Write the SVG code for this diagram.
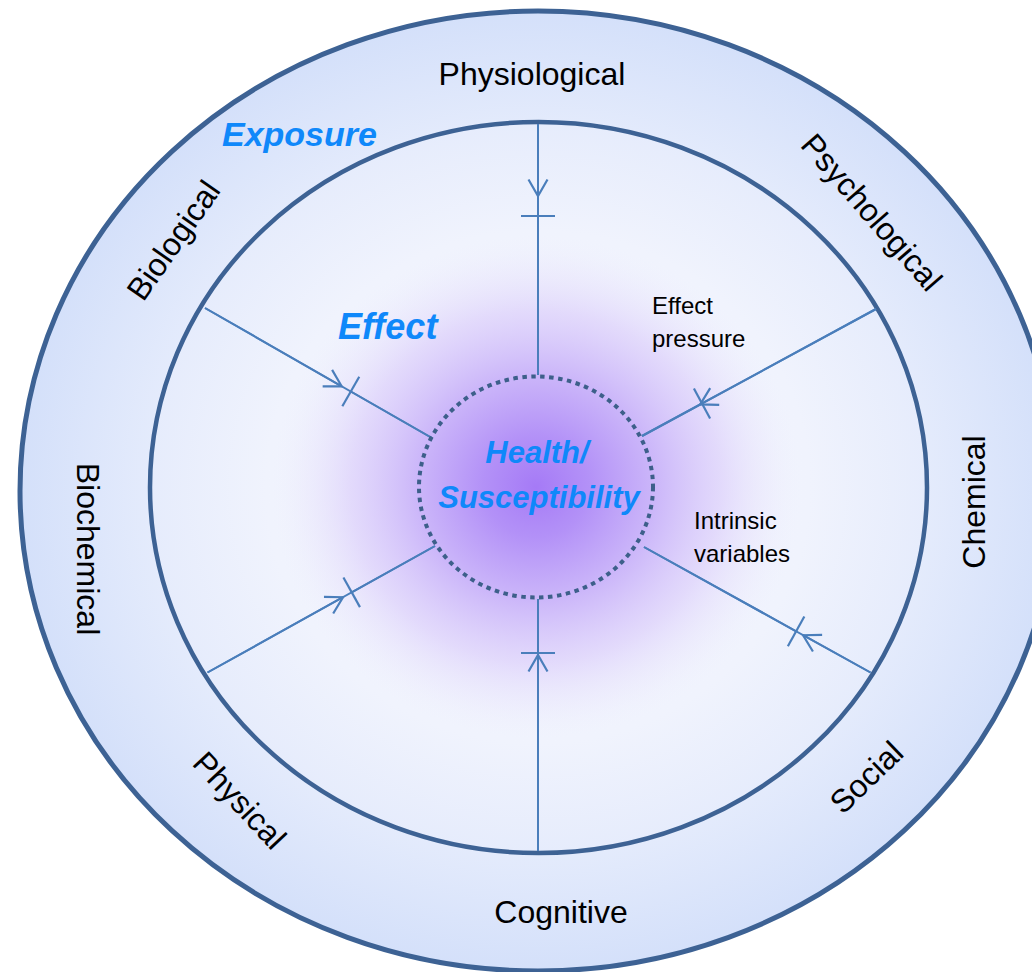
<svg xmlns="http://www.w3.org/2000/svg" width="1032" height="972" viewBox="0 0 1032 972">
  <defs>
    <radialGradient id="ringFill" cx="538" cy="491" r="518" gradientUnits="userSpaceOnUse" gradientTransform="translate(538 491) scale(1 0.927) translate(-538 -491)">
      <stop offset="0" stop-color="#eef1fd"/>
      <stop offset="0.75" stop-color="#e4ebfc"/>
      <stop offset="1" stop-color="#d4e0fa"/>
    </radialGradient>
    <radialGradient id="discFill" cx="538" cy="487" r="388" gradientUnits="userSpaceOnUse" gradientTransform="translate(538 487) scale(1 0.943) translate(-538 -487)">
      <stop offset="0" stop-color="#f6f5fe"/>
      <stop offset="0.7" stop-color="#f0f3fd"/>
      <stop offset="1" stop-color="#e6ecfc"/>
    </radialGradient>
    <radialGradient id="glow" cx="536" cy="487" r="265" gradientUnits="userSpaceOnUse" gradientTransform="translate(536 487) scale(1 0.95) translate(-536 -487)">
      <stop offset="0" stop-color="#a57af6" stop-opacity="1"/>
      <stop offset="0.2" stop-color="#b18ef7" stop-opacity="0.97"/>
      <stop offset="0.45" stop-color="#c8b1f9" stop-opacity="0.92"/>
      <stop offset="0.7" stop-color="#dccffb" stop-opacity="0.7"/>
      <stop offset="0.88" stop-color="#e8e4fc" stop-opacity="0.35"/>
      <stop offset="1" stop-color="#eef0fd" stop-opacity="0"/>
    </radialGradient>
    <marker id="vee" markerUnits="userSpaceOnUse" markerWidth="40" markerHeight="40" refX="0" refY="0" orient="auto" overflow="visible">
      <path d="M-16.5,-9.5 L0,0 L-16.5,9.5" fill="none" stroke="#4a7ebb" stroke-width="2.2"/>
    </marker>
    <marker id="bar" markerUnits="userSpaceOnUse" markerWidth="40" markerHeight="40" refX="0" refY="0" orient="auto" overflow="visible">
      <path d="M0,-17 L0,17" fill="none" stroke="#4a7ebb" stroke-width="2.2"/>
    </marker>
  </defs>
  <style>
    .rim { stroke: #3d6294; fill: none; }
    .spoke { stroke: #4a7ebb; stroke-width: 2; fill: none; }
    .ring-label { font-family: "Liberation Sans", Arial, sans-serif; font-size: 32px; fill: #000; }
    .note { font-family: "Liberation Sans", Arial, sans-serif; font-size: 24px; fill: #000; }
    .key { font-family: "Liberation Sans", Arial, sans-serif; font-weight: bold; font-style: italic; fill: #0f88fa; }
  </style>

  <rect width="1032" height="972" fill="#ffffff"/>

  <!-- outer ring: exposure domains -->
  <g id="exposure-ring">
    <ellipse cx="538" cy="491" rx="518" ry="480" fill="url(#ringFill)"/>
    <ellipse class="rim" cx="538" cy="491" rx="518" ry="480" stroke-width="5"/>
  </g>

  <!-- inner disc: effect zone -->
  <g id="effect-disc">
    <ellipse cx="538.5" cy="487.5" rx="388.5" ry="365.5" fill="url(#discFill)"/>
    <ellipse cx="536" cy="487" rx="270" ry="258" fill="url(#glow)"/>
    <ellipse class="rim" cx="538.5" cy="487.5" rx="388.5" ry="365.5" stroke-width="4.5"/>
  </g>

  <!-- spokes: exposure pressure towards the core -->
  <g id="connectors">
    <!-- top -->
    <path class="spoke" d="M538,124 L538,375"/>
    <path class="spoke" d="M538,124 L538,196" marker-end="url(#vee)"/>
    <path class="spoke" d="M538,216 L538,375" marker-start="url(#bar)"/>
    <!-- bottom -->
    <path class="spoke" d="M538,851 L538,599"/>
    <path class="spoke" d="M538,851 L538,655" marker-end="url(#vee)"/>
    <path class="spoke" d="M538,653 L538,599" marker-start="url(#bar)"/>
    <!-- upper left -->
    <path class="spoke" d="M205,308 L432,438"/>
    <path class="spoke" d="M205,308 L341.7,386.3" marker-end="url(#vee)"/>
    <path class="spoke" d="M350.8,391.5 L432,438" marker-start="url(#bar)"/>
    <!-- upper right -->
    <path class="spoke" d="M876,309 L642,436"/>
    <path class="spoke" d="M876,309 L700.2,404.4" marker-end="url(#vee)"/>
    <path class="spoke" d="M702,403.5 L642,436" marker-start="url(#bar)"/>
    <!-- lower left -->
    <path class="spoke" d="M207.5,672.5 L435,546"/>
    <path class="spoke" d="M207.5,672.5 L343,597.2" marker-end="url(#vee)"/>
    <path class="spoke" d="M351.7,592.3 L435,546" marker-start="url(#bar)"/>
    <!-- lower right -->
    <path class="spoke" d="M870.5,672.5 L644,547"/>
    <path class="spoke" d="M870.5,672.5 L803.1,635.2" marker-end="url(#vee)"/>
    <path class="spoke" d="M796.1,631.3 L644,547" marker-start="url(#bar)"/>
  </g>

  <!-- core: health / susceptibility -->
  <g id="core">
    <ellipse cx="536" cy="487" rx="117" ry="110.5" fill="none" stroke="#3d5f8a" stroke-width="4" stroke-dasharray="4.5 4.5"/>
    <text class="key" x="537" y="463" font-size="31" text-anchor="middle">Health/</text>
    <text class="key" x="539" y="508" font-size="31" text-anchor="middle">Susceptibility</text>
  </g>

  <!-- zone titles -->
  <g id="zone-titles">
    <text class="key" x="222" y="146" font-size="34">Exposure</text>
    <text class="key" x="338" y="339" font-size="36">Effect</text>
  </g>

  <!-- annotations -->
  <g id="effect-pressure-note">
    <text class="note" x="652" y="314">Effect</text>
    <text class="note" x="652" y="347">pressure</text>
  </g>
  <g id="intrinsic-note">
    <text class="note" x="694" y="529">Intrinsic</text>
    <text class="note" x="694" y="562">variables</text>
  </g>

  <!-- exposure domain labels around the ring -->
  <g id="label-physiological"><text class="ring-label" x="532" y="85" text-anchor="middle">Physiological</text></g>
  <g id="label-psychological"><text class="ring-label" transform="translate(872 212) rotate(49)" x="0" y="11.5" text-anchor="middle">Psychological</text></g>
  <g id="label-chemical"><text class="ring-label" transform="translate(973 502) rotate(-90)" x="0" y="11.5" text-anchor="middle">Chemical</text></g>
  <g id="label-social"><text class="ring-label" transform="translate(866 777) rotate(-44)" x="0" y="11.5" text-anchor="middle">Social</text></g>
  <g id="label-cognitive"><text class="ring-label" x="561" y="923" text-anchor="middle">Cognitive</text></g>
  <g id="label-physical"><text class="ring-label" transform="translate(240 800) rotate(47)" x="0" y="11.5" text-anchor="middle">Physical</text></g>
  <g id="label-biochemical"><text class="ring-label" transform="translate(88 549) rotate(90)" x="0" y="11.5" text-anchor="middle">Biochemical</text></g>
  <g id="label-biological"><text class="ring-label" transform="translate(173 240) rotate(-55)" x="0" y="11.5" text-anchor="middle">Biological</text></g>
</svg>
